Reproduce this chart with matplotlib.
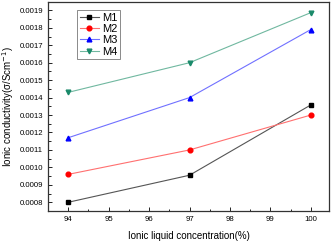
import matplotlib
matplotlib.use("Agg")
import matplotlib.pyplot as plt
from matplotlib.ticker import MultipleLocator, FormatStrFormatter

plt.rcParams['font.family'] = ['Liberation Sans', 'DejaVu Sans']

concentration = [94, 97, 100]
m1 = [0.00080, 0.000955, 0.001358]
m2 = [0.00096, 0.00110, 0.00130]
m3 = [0.00117, 0.00140, 0.00179]
m4 = [0.00143, 0.00160, 0.001887]
labels = ['M1', 'M2', 'M3', 'M4']

fig = plt.figure(figsize=(3.33, 2.42), dpi=100)
ax = fig.add_axes([48/333, 1-211/242, (329-48)/333, (211-2)/242])

styles = [
    ('#000000', '#555555', 's'),
    ('#ff0000', '#ff7070', 'o'),
    ('#0000ff', '#7070ff', '^'),
    ('#1a8a6a', '#70b8a0', 'v'),
]
for ys, lab, (mc, lc, mk) in zip([m1, m2, m3, m4], labels, styles):
    ax.plot(concentration, ys, color=lc, lw=0.8, marker=mk, markersize=3.4,
            markerfacecolor=mc, markeredgecolor=mc, label=lab)

ax.set_xlim(93.5, 100.45)
ax.set_ylim(0.00075, 0.001948)
ax.xaxis.set_major_locator(MultipleLocator(1))
ax.xaxis.set_minor_locator(MultipleLocator(0.5))
ax.yaxis.set_major_locator(MultipleLocator(0.0001))
ax.yaxis.set_minor_locator(MultipleLocator(0.00005))
ax.yaxis.set_major_formatter(FormatStrFormatter('%.4f'))
ax.tick_params(which='both', direction='in', top=False, right=False, labelsize=5.6, width=0.6)
ax.tick_params(which='major', length=3)
ax.tick_params(which='minor', length=1.8)
for s in ax.spines.values():
    s.set_linewidth(0.9)
    s.set_color('#333333')

ax.set_xlabel('Ionic liquid concentration(%)', fontsize=7, labelpad=6)
ax.set_ylabel('Ionic conductivity(σ/Scm$^{-1}$)', fontsize=7, labelpad=2.5)

leg = ax.legend(loc='upper left', bbox_to_anchor=(0.103, 0.962), borderaxespad=0,
                fontsize=8, frameon=True, fancybox=False, edgecolor='#555555',
                handlelength=1.7, handletextpad=0.3, borderpad=0.25, labelspacing=0.12)
leg.get_frame().set_linewidth(0.6)

fig.savefig('out.png', dpi=100)
